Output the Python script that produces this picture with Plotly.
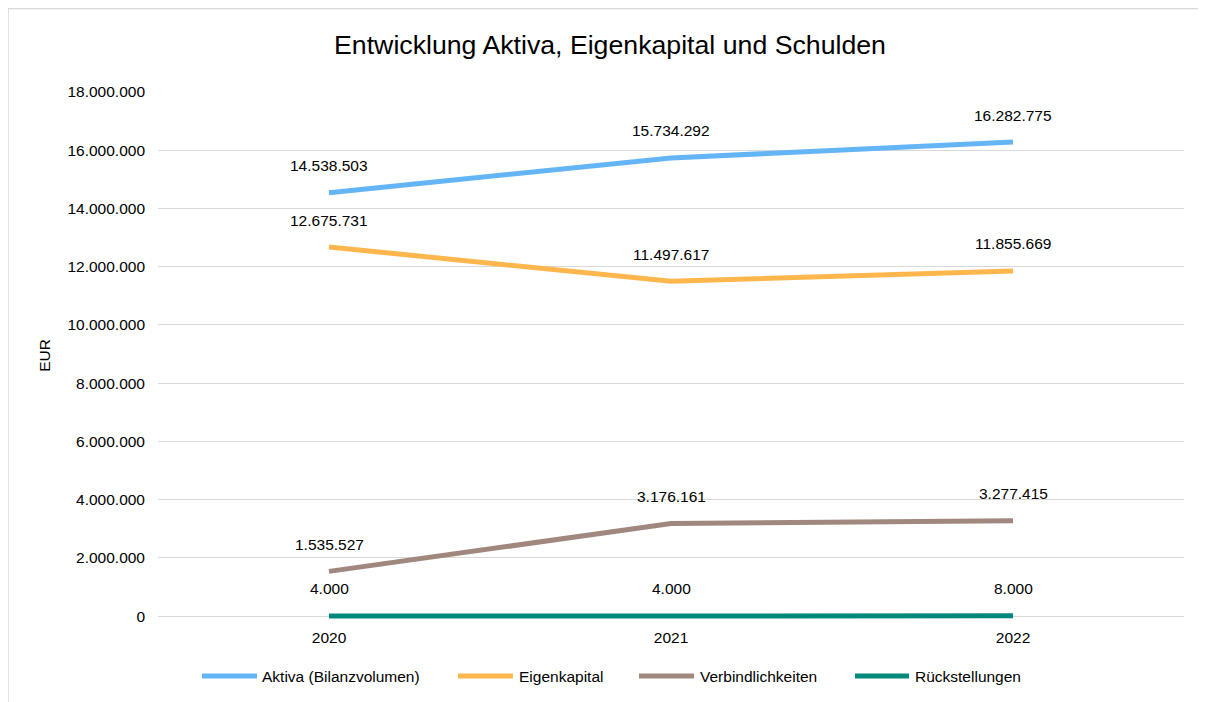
import plotly.graph_objects as go

years = ["2020", "2021", "2022"]
aktiva = [14538503, 15734292, 16282775]
eigenkapital = [12675731, 11497617, 11855669]
verbindlichkeiten = [1535527, 3176161, 3277415]
rueckstellungen = [4000, 4000, 8000]

series = [
    ("Aktiva (Bilanzvolumen)", aktiva, "#64B5F6"),
    ("Eigenkapital", eigenkapital, "#FFB74D"),
    ("Verbindlichkeiten", verbindlichkeiten, "#A1887F"),
    ("Rückstellungen", rueckstellungen, "#00897B"),
]

def de(v):
    return f"{v:,}".replace(",", ".")

# page body has an 8px margin; figure coords ~ screen coords - 8
W, H = 1198, 694
L, R, T, B = 150, 22, 84, 83
FONT = "Liberation Sans, Arial, sans-serif"

fig = go.Figure()
annotations = []
for name, vals, col in series:
    fig.add_trace(go.Scatter(
        x=years, y=vals, name=name, mode="lines",
        line=dict(color=col, width=5),
        hoverinfo="skip", showlegend=False,
    ))
    for i, v in enumerate(vals):
        annotations.append(dict(
            x=i, y=v, xref="x", yref="y", text=de(v), showarrow=False,
            yanchor="middle", yshift=27,
            font=dict(family=FONT, size=15.5, color="#000000"),
        ))

pw = W - L - R
ph = H - T - B
def px2x(p): return (p - L) / pw
def px2y(p): return (H - B - p) / ph

shapes = [
    dict(type="line", xref="paper", yref="paper", x0=px2x(-1), x1=px2x(W + 5), y0=px2y(0.5), y1=px2y(0.5),
         line=dict(color="#D9D9D9", width=1.5)),
    dict(type="line", xref="paper", yref="paper", x0=px2x(0), x1=px2x(0), y0=px2y(0), y1=px2y(H + 5),
         line=dict(color="#D9D9D9", width=1.5)),
]

# legend (line sample + label), positions in figure pixels
legend_pos = [(194, 249, 252), (450, 505, 509), (631, 686, 690), (847, 901, 905)]
ly = 668
for (name, vals, col), (a, b, t) in zip(series, legend_pos):
    shapes.append(dict(type="line", xref="paper", yref="paper",
                       x0=px2x(a), x1=px2x(b), y0=px2y(ly), y1=px2y(ly),
                       line=dict(color=col, width=5)))
    annotations.append(dict(x=px2x(t), y=px2y(ly), xref="paper", yref="paper", text=name,
                            showarrow=False, xanchor="left", yanchor="middle",
                            font=dict(family=FONT, size=15.5, color="#000000")))

fig.update_layout(
    width=W, height=H,
    margin=dict(l=L, r=R, t=T, b=B),
    paper_bgcolor="white", plot_bgcolor="white",
    separators=",.",
    font=dict(family=FONT, size=15.5, color="#000000"),
    title=dict(text="Entwicklung Aktiva, Eigenkapital und Schulden",
               x=602 / W, xref="container", xanchor="center", y=1 - 37 / H, yref="container", yanchor="middle",
               font=dict(size=26.7, family=FONT, color="#000000")),
    xaxis=dict(type="category", range=[-0.5, 2.5], showgrid=False, showline=False,
               ticks="", tickfont=dict(size=15.5), ticklabelstandoff=7),
    yaxis=dict(range=[-100000, 18000000], tickvals=list(range(0, 18000001, 2000000)),
               tickformat=",d", showgrid=True, gridcolor="#D9D9D9", gridwidth=1,
               zeroline=True, zerolinecolor="#D9D9D9", zerolinewidth=1,
               showline=False, ticks="", ticklabelstandoff=12, tickfont=dict(size=15.5),
               title=dict(text="EUR", font=dict(size=15.5), standoff=12)),
    annotations=annotations,
    shapes=shapes,
    showlegend=False,
)

fig.write_html("out.html")
